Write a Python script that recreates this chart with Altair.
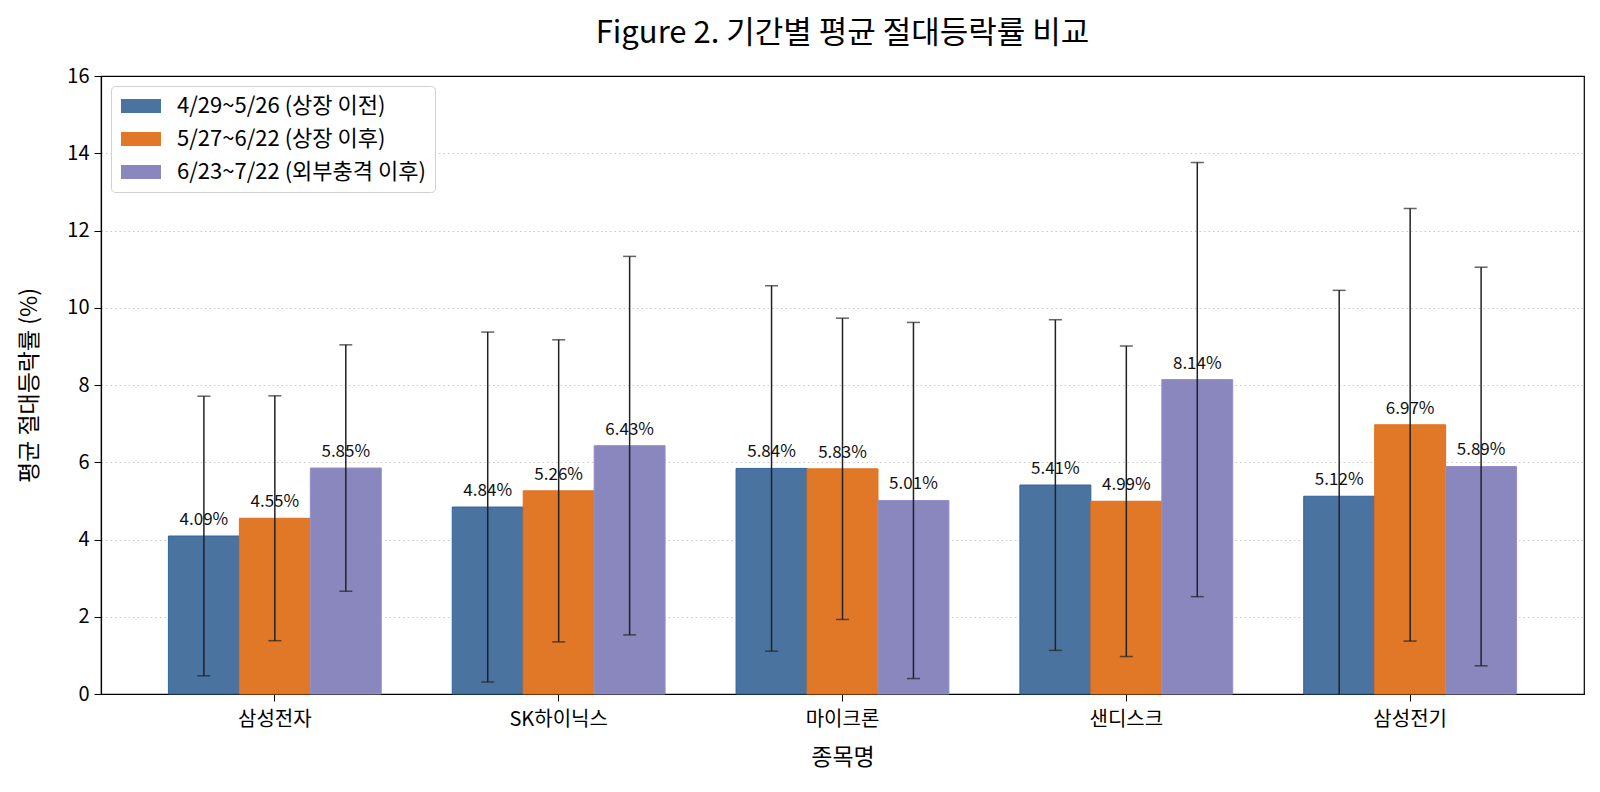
import altair as alt
import pandas as pd

stocks = ["삼성전자", "SK하이닉스", "마이크론", "샌디스크", "삼성전기"]
periods = ["4/29~5/26 (상장 이전)", "5/27~6/22 (상장 이후)", "6/23~7/22 (외부충격 이후)"]

mean_pre = [4.09, 4.84, 5.84, 5.41, 5.12]
mean_post = [4.55, 5.26, 5.83, 4.99, 6.97]
mean_shock = [5.85, 6.43, 5.01, 8.14, 5.89]

std_pre = [3.62, 4.53, 4.73, 4.28, 5.33]
std_post = [3.17, 3.91, 3.90, 4.02, 5.60]
std_shock = [3.19, 4.90, 4.61, 5.62, 5.16]

y_ticks = [0, 2, 4, 6, 8, 10, 12, 14, 16]

fill_colors = ["#4a73a0", "#e07828", "#8a87be"]
edge_colors = ["#2f64a0", "#e0701e", "#9490c8"]

FONT = "Noto Sans CJK KR"

rows = []
for period, means, stds in zip(periods, [mean_pre, mean_post, mean_shock], [std_pre, std_post, std_shock]):
    for stock, m, s in zip(stocks, means, stds):
        rows.append({"stock": stock, "period": period, "mean": m,
                     "lo": m - s, "hi": m + s, "label": f"{m:.2f}%"})
df = pd.DataFrame(rows)

x_enc = alt.X("stock:N", sort=stocks, title="종목명",
              scale=alt.Scale(paddingInner=0.25, paddingOuter=0.2375),
              axis=alt.Axis(labelAngle=0, labelFontSize=20, titleFontSize=23,
                            labelPadding=8, titlePadding=17, tickSize=7))
off_enc = alt.XOffset("period:N", sort=periods,
                      scale=alt.Scale(paddingInner=0, paddingOuter=0))
y_scale = alt.Scale(domain=[0, 16], nice=False)

base = alt.Chart(df)

bars = base.mark_bar(strokeWidth=1, opacity=1).encode(
    x=x_enc,
    xOffset=off_enc,
    y=alt.Y("mean:Q", scale=y_scale, title="평균 절대등락률 (%)",
            axis=alt.Axis(values=y_ticks, format="d", labelFontSize=20, titleFontSize=23,
                          tickSize=7, labelPadding=5, titlePadding=25,
                          grid=True, gridDash=[1.5, 3], gridColor="#c8c8c8", gridWidth=1,
                          gridOpacity={"condition": {"test": "datum.value >= 16 || datum.value <= 0",
                                                     "value": 0}, "value": 1})),
    color=alt.Color("period:N", sort=periods,
                    scale=alt.Scale(domain=periods, range=fill_colors),
                    legend=alt.Legend(title=None, orient="top-left", offset=10,
                                      labelFontSize=22, labelOffset=25, labelLimit=500,
                                      symbolType="M-2,-0.7L2,-0.7L2,0.7L-2,0.7Z",
                                      symbolSize=400, symbolOffset=10,
                                      symbolStrokeWidth=0, symbolOpacity=1,
                                      rowPadding=11, padding=9, cornerRadius=4,
                                      strokeColor="#d0d0d0", fillColor="#ffffff")),
    stroke=alt.Stroke("period:N", sort=periods,
                      scale=alt.Scale(domain=periods, range=edge_colors), legend=None),
)

err = base.mark_rule(color="#222222", strokeWidth=1.5, clip=True).encode(
    x=alt.X("stock:N", sort=stocks),
    xOffset=off_enc,
    y=alt.Y("lo:Q", scale=y_scale),
    y2="hi:Q",
)

cap_lo = base.mark_tick(color="#222222", thickness=1.5, size=13, clip=True).encode(
    x=alt.X("stock:N", sort=stocks),
    xOffset=off_enc,
    y=alt.Y("lo:Q", scale=y_scale),
)

cap_hi = base.mark_tick(color="#222222", thickness=1.5, size=13, clip=True).encode(
    x=alt.X("stock:N", sort=stocks),
    xOffset=off_enc,
    y=alt.Y("hi:Q", scale=y_scale),
)

labels = base.mark_text(fontSize=17, color="#111111", baseline="alphabetic", dy=-11).encode(
    x=alt.X("stock:N", sort=stocks),
    xOffset=off_enc,
    y=alt.Y("mean:Q", scale=y_scale),
    text="label:N",
)

chart = alt.layer(bars, err, cap_lo, cap_hi, labels).properties(
    width=1483,
    height=618,
    autosize=alt.AutoSizeParams(type="none"),
    padding={"left": 93, "top": 68, "right": 8, "bottom": 90},
    title=alt.Title("Figure 2. 기간별 평균 절대등락률 비교", fontSize=31, fontWeight="normal",
                    anchor="middle", frame="group", offset=16, color="#000000"),
).configure(
    font=FONT,
).configure_view(
    stroke="#000000", strokeWidth=1.2,
).configure_axis(
    domainColor="#000000", tickColor="#000000", labelColor="#000000",
    titleColor="#000000", titleFontWeight="normal", domainWidth=1.2,
    labelFont=FONT, titleFont=FONT,
).configure_axisX(
    grid=False,
).configure_legend(
    labelFont=FONT, labelColor="#000000",
)

chart.save("out.html", embed_options={"renderer": "svg", "actions": False})
